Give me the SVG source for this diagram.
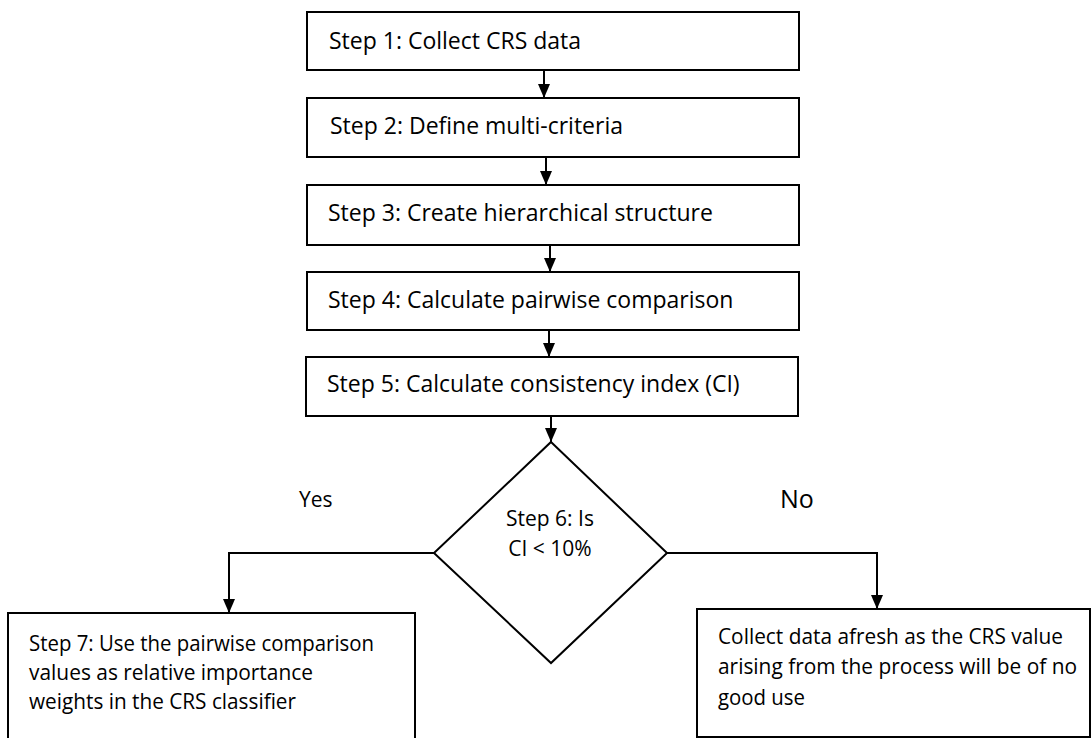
<svg xmlns="http://www.w3.org/2000/svg" width="1092" height="738" viewBox="0 0 1092 738">
<defs>
<marker id="ah" markerUnits="userSpaceOnUse" markerWidth="14" markerHeight="12" viewBox="0 0 14 12" refX="14" refY="6" orient="auto">
<path d="M0,0 L14,6 L0,12 Z" fill="#000"/>
</marker>
</defs>
<style>
.box{fill:#fff;stroke:#000;stroke-width:2}
.t{font-family:"Open Sans","Liberation Sans",sans-serif;font-size:23px;fill:#000}
.b{font-family:"Open Sans","Liberation Sans",sans-serif;font-size:22px;fill:#000}
.s{font-family:"Open Sans","Liberation Sans",sans-serif;font-size:21px;fill:#000}
.c{fill:none;stroke:#000;stroke-width:2}
</style>
<rect width="1092" height="738" fill="#fff"/>
<g id="step1"><rect class="box" x="307" y="12" width="492" height="58"/><text class="t" x="329" y="49">Step 1: Collect CRS data</text></g>
<g id="step2"><rect class="box" x="307" y="98" width="492" height="59"/><text class="t" x="330" y="134">Step 2: Define multi-criteria</text></g>
<g id="step3"><rect class="box" x="307" y="185" width="492" height="60"/><text class="t" x="328" y="221">Step 3: Create hierarchical structure</text></g>
<g id="step4"><rect class="box" x="307" y="272" width="492" height="58"/><text class="t" x="328" y="308">Step 4: Calculate pairwise comparison</text></g>
<g id="step5"><rect class="box" x="306" y="357" width="492" height="59"/><text class="t" x="327" y="392">Step 5: Calculate consistency index (CI)</text></g>
<g id="step6"><polygon class="box" points="551,442 667,553 551,663 434,553"/><text class="s" x="550" y="526" text-anchor="middle">Step 6: Is</text><text class="s" x="550" y="556" text-anchor="middle">CI &lt; 10%</text></g>
<g id="step7"><rect class="box" x="8" y="613" width="407" height="140"/>
<text class="b" x="29" y="651" textLength="345" lengthAdjust="spacingAndGlyphs">Step 7: Use the pairwise comparison</text>
<text class="b" x="29" y="680" textLength="284" lengthAdjust="spacingAndGlyphs">values as relative importance</text>
<text class="b" x="29" y="709" textLength="267" lengthAdjust="spacingAndGlyphs">weights in the CRS classifier</text></g>
<g id="afresh"><rect class="box" x="697" y="609" width="393" height="128"/>
<text class="b" x="718" y="644" textLength="345" lengthAdjust="spacingAndGlyphs">Collect data afresh as the CRS value</text>
<text class="b" x="718" y="674" textLength="359" lengthAdjust="spacingAndGlyphs">arising from the process will be of no</text>
<text class="b" x="718" y="705" textLength="87" lengthAdjust="spacingAndGlyphs">good use</text></g>
<g id="connectors">
<line class="c" x1="544" y1="70" x2="544" y2="98" marker-end="url(#ah)"/>
<line class="c" x1="546" y1="157" x2="546" y2="185" marker-end="url(#ah)"/>
<line class="c" x1="550" y1="245" x2="550" y2="272" marker-end="url(#ah)"/>
<line class="c" x1="549" y1="330" x2="549" y2="357" marker-end="url(#ah)"/>
<line class="c" x1="551" y1="416" x2="551" y2="442" marker-end="url(#ah)"/>
<polyline class="c" points="434,553 229,553 229,613" marker-end="url(#ah)"/>
<polyline class="c" points="667,553 877,553 877,609" marker-end="url(#ah)"/>
<text class="s" x="299" y="507">Yes</text>
<text class="s" x="780" y="508" style="font-size:25px">No</text>
</g>
</svg>
